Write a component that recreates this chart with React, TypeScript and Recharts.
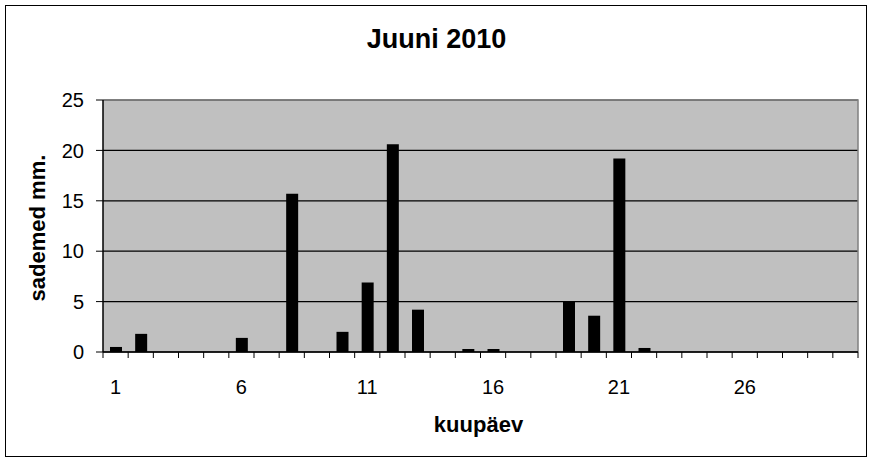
import React from 'react';
import { BarChart, Bar, XAxis, YAxis, CartesianGrid, ReferenceArea } from 'recharts';

const days = Array.from({ length: 30 }, (_, i) => i + 1);
const rainfall = [
    0.5, 1.8, 0, 0, 0, 1.4, 0, 15.7, 0, 2.0,
    6.9, 20.6, 4.2, 0, 0.3, 0.3, 0, 0, 5.0, 3.6,
    19.2, 0.4, 0, 0, 0, 0, 0, 0, 0, 0,
];
const yTicks = [0, 5, 10, 15, 20, 25];

const data = days.map((day, i) => ({ day, rain: rainfall[i] }));

const FONT = 'Arial, "Liberation Sans", sans-serif';

const DayTick = (props: any) => {
    const { x, y, payload, index } = props;
    const half = payload.offset || 0;
    return (
        <g>
            <line x1={x - half} x2={x - half} y1={y} y2={y + 6} stroke="#000" />
            {index === days.length - 1 && (
                <line x1={x + half} x2={x + half} y1={y} y2={y + 6} stroke="#000" />
            )}
            {index % 5 === 0 && (
                <text x={x} y={y + 42} textAnchor="middle" fill="#000" fontSize={20} fontFamily={FONT}>
                    {payload.value}
                </text>
            )}
        </g>
    );
};

// only the top and right edges of the plot frame are grey
const PlotFrame = (props: any) => {
    const { x, y, width, height } = props;
    return (
        <path
            d={`M${x},${y}H${x + width}V${y + height}`}
            fill="none"
            stroke="#808080"
            strokeWidth={1.5}
        />
    );
};

export default function App() {
    return (
        <div style={{ position: 'absolute', left: 0, top: 0, width: 873, height: 462, background: '#fff' }}>
            <div
                style={{
                    position: 'absolute',
                    left: 5,
                    top: 5,
                    width: 862,
                    height: 452,
                    border: '1px solid #000',
                    boxSizing: 'border-box',
                }}
            />
            <div
                style={{
                    position: 'absolute',
                    left: 0,
                    top: 26,
                    width: 873,
                    textAlign: 'center',
                    fontFamily: FONT,
                    fontWeight: 'bold',
                    fontSize: 27,
                    lineHeight: '27px',
                }}
            >
                Juuni 2010
            </div>
            <div
                style={{
                    position: 'absolute',
                    left: -62.5,
                    top: 216.5,
                    width: 200,
                    textAlign: 'center',
                    fontFamily: FONT,
                    fontWeight: 'bold',
                    fontSize: 22,
                    lineHeight: '22px',
                    transform: 'rotate(-90deg)',
                }}
            >
                sademed mm.
            </div>
            <div
                style={{
                    position: 'absolute',
                    left: 378.5,
                    top: 414,
                    width: 200,
                    textAlign: 'center',
                    fontFamily: FONT,
                    fontWeight: 'bold',
                    fontSize: 22,
                    lineHeight: '22px',
                }}
            >
                kuupäev
            </div>
            <div style={{ position: 'absolute', left: 0, top: 0 }}>
                <BarChart
                    width={873}
                    height={462}
                    data={data}
                    margin={{ top: 100, right: 15, bottom: 80, left: 43 }}
                >
                    <CartesianGrid vertical={false} fill="#C0C0C0" stroke="#000" strokeWidth={1.2} />
                    <XAxis
                        dataKey="day"
                        height={30}
                        interval={0}
                        tickSize={0}
                        tickMargin={0}
                        tickLine={false}
                        axisLine={{ stroke: '#000', strokeWidth: 1.5 }}
                        tick={<DayTick />}
                    />
                    <YAxis
                        width={60}
                        domain={[0, 25]}
                        ticks={yTicks}
                        tickSize={7}
                        tickMargin={12}
                        axisLine={{ stroke: '#000', strokeWidth: 1.5 }}
                        tickLine={{ stroke: '#000' }}
                        tick={{ fill: '#000', fontSize: 20, fontFamily: FONT }}
                    />
                    <ReferenceArea x1={1} x2={30} y1={0} y2={25} shape={<PlotFrame />} />
                    <Bar dataKey="rain" fill="#000" barSize={12} isAnimationActive={false} />
                </BarChart>
            </div>
        </div>
    );
}
